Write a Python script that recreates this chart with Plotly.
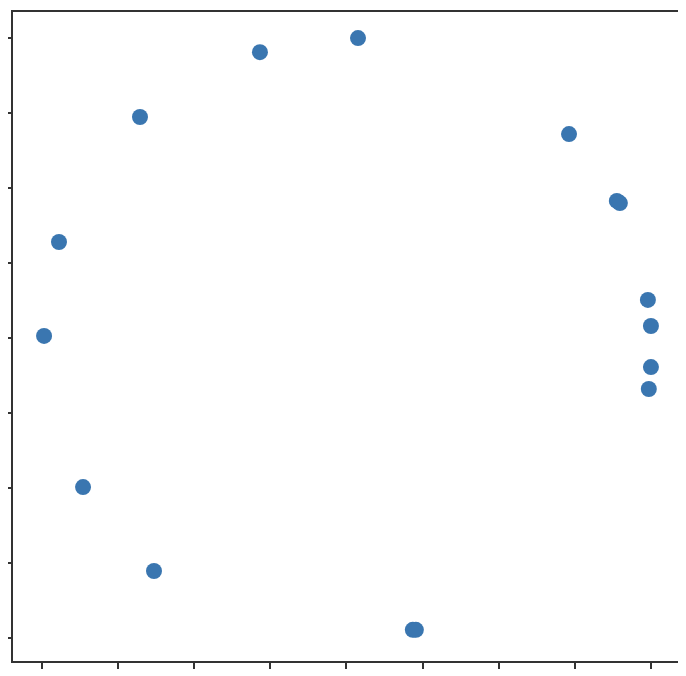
import plotly.graph_objects as go

x_vals = [0.038, -0.284, -0.678, 0.731, 0.888, 0.898, -0.944, 0.990, 1.000, -0.993, 1.000, 0.993, -0.865, -0.632, 0.218, 0.228]
y_vals = [1.000, 0.953, 0.737, 0.680, 0.457, 0.450, 0.320, 0.127, 0.040, 0.007, -0.097, -0.170, -0.497, -0.777, -0.973, -0.973]
tick_vals = [-1, -0.75, -0.5, -0.25, 0, 0.25, 0.5, 0.75, 1]

fig = go.Figure(go.Scatter(
    x=x_vals, y=y_vals, mode="markers",
    marker=dict(size=16, color="#3a76b0", line=dict(width=0)),
))

axis_common = dict(
    showgrid=False, zeroline=False, showticklabels=False,
    ticks="outside", ticklen=6, tickwidth=1.5, tickcolor="#333",
    showline=True, linewidth=1.8, linecolor="#333", mirror=True,
    tickvals=tick_vals,
)
fig.update_xaxes(range=[-1.095, 1.102], **axis_common)
fig.update_yaxes(range=[-1.077, 1.087], **axis_common)
fig.update_layout(
    width=678, height=668,
    margin=dict(l=5, r=4, t=4, b=15, autoexpand=False),
    plot_bgcolor="white", paper_bgcolor="white",
    showlegend=False,
)
fig.write_html("out.html")
